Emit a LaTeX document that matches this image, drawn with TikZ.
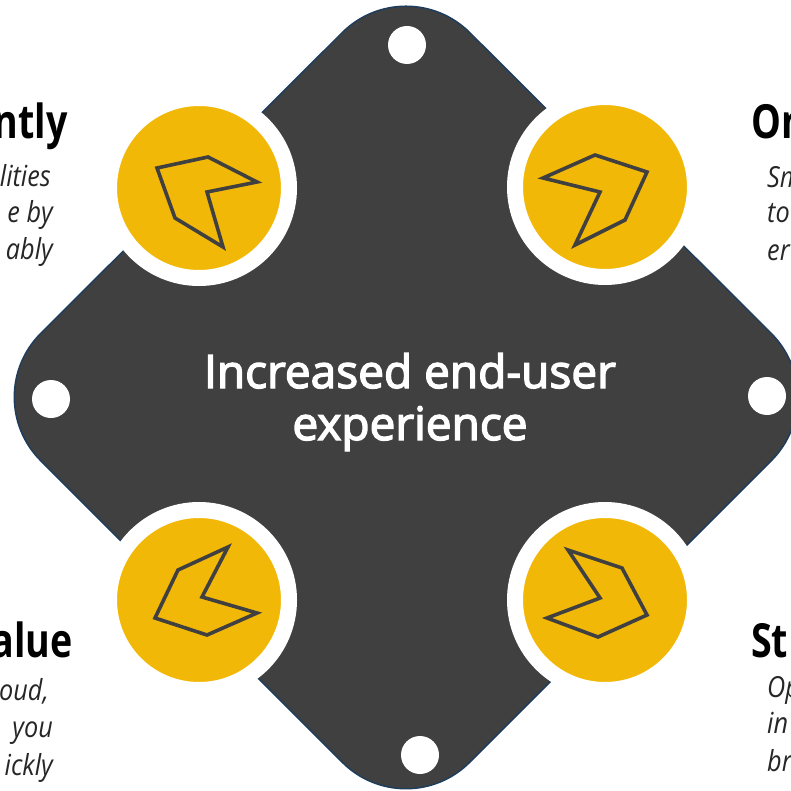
\documentclass[tikz,border=0pt]{standalone}
\usepackage{fontspec}
\setmainfont{Open Sans}
\newfontfamily\centerfont{Open Sans}[FakeBold=3]
\newfontfamily\headfont{Open Sans Bold}[FakeStretch=0.8]
\newfontfamily\bodyfont{Open Sans Italic}[FakeStretch=0.87]
\definecolor{diamondfill}{HTML}{404040}
\definecolor{diamondedge}{HTML}{1F3D5C}
\definecolor{goldfill}{HTML}{F2B807}
\definecolor{iconline}{HTML}{404040}
\definecolor{bodytext}{HTML}{262626}
\tikzset{
  diamondshape/.style={fill=diamondfill, draw=diamondedge, line width=1.5pt, rounded corners=90pt},
  ring/.style={circle, minimum size=180pt, inner sep=0pt, fill=goldfill, draw=white, line width=16pt},
  dot/.style={circle, minimum size=38pt, inner sep=0pt, fill=white},
  icon/.style={draw=iconline, line width=3.6pt, line join=miter},
  centertext/.style={text=white, font=\centerfont\fontsize{46}{52}\selectfont, inner sep=0pt},
  headtext/.style={text=black, font=\headfont\fontsize{47}{52}\selectfont, inner sep=0pt},
  bodyit/.style={text=bodytext, font=\bodyfont\fontsize{29}{36}\selectfont, inner sep=0pt}
}
\begin{document}
\begin{tikzpicture}[x=1pt,y=-1pt]
\useasboundingbox (0,0) rectangle (791,791);
\clip (0,0) rectangle (791,791);
\fill[white] (0,0) rectangle (791,791);
% diamond
\draw[diamondshape] (406,-31) -- (835,397) -- (406,826) -- (-23,397) -- cycle;
% tip dots
\node[dot] (dtop) at (407,45) {};
\node[dot] (dleft) at (51,399) {};
\node[dot] (dright) at (767,396) {};
\node[dot] (dbottom) at (420,755) {};
% gold circles
\node[ring] (ctl) at (199,188) {};
\node[ring] (ctr) at (605,187) {};
\node[ring] (cbl) at (199,600) {};
\node[ring] (cbr) at (605,600) {};
% icons
\draw[icon] (157,168) -- (208,157) -- (257,182) -- (207,192) -- (223,247) -- (175,218) -- cycle;
\draw[icon] (543,178) -- (595,155) -- (647,172) -- (625,220) -- (575,245) -- (600,192) -- cycle;
\draw[icon] (228,547) -- (178,570) -- (155,618) -- (207,635) -- (257,613) -- (202,597) -- cycle;
\draw[icon] (568,550) -- (622,568) -- (647,615) -- (598,637) -- (547,618) -- (600,598) -- cycle;
% center text
\node[centertext, anchor=base] (ct1) at (410,388) {Increased end-user};
\node[centertext, anchor=base] (ct2) at (410,440) {experience};
% top-left texts
\node[headtext, anchor=base east] (tlh) at (68,139) {ntly};
\node[bodyit, anchor=base east] (tl1) at (51,187) {lities};
\node[bodyit, anchor=base east] (tl2) at (53,223) {e by};
\node[bodyit, anchor=base east] (tl3) at (53,260) {ably};
% top-right texts
\node[headtext, anchor=base west] (trh) at (751,139) {On};
\node[bodyit, anchor=base west] (tr1) at (767,188) {Sm};
\node[bodyit, anchor=base west] (tr2) at (767,223) {to};
\node[bodyit, anchor=base west] (tr3) at (767,261) {er};
% bottom-left texts
\node[headtext, anchor=base east] (blh) at (73,657) {alue};
\node[bodyit, anchor=base east] (bl1) at (49,700) {oud,};
\node[bodyit, anchor=base east] (bl2) at (53,737) {you};
\node[bodyit, anchor=base east] (bl3) at (53,775) {ickly};
% bottom-right texts
\node[headtext, anchor=base west] (brh) at (751,657) {St};
\node[bodyit, anchor=base west] (br1) at (767,697) {Op};
\node[bodyit, anchor=base west] (br2) at (767,733) {in};
\node[bodyit, anchor=base west] (br3) at (767,771) {br};
\end{tikzpicture}
\end{document}
